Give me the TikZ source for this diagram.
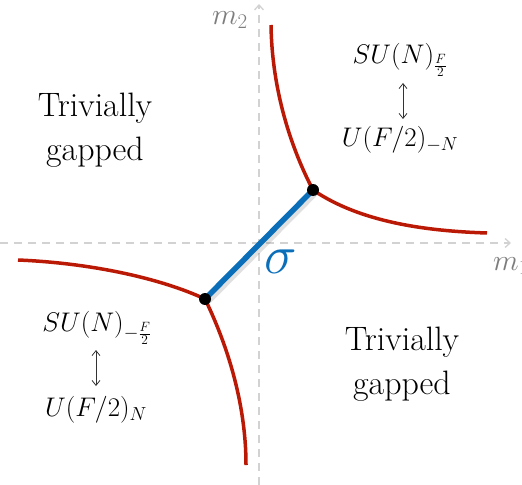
\RequirePackage{fix-cm}
\documentclass[tikz,border=0pt]{standalone}
\usetikzlibrary{arrows.meta}
\definecolor{cred}{RGB}{185,25,5}
\definecolor{cblue}{RGB}{10,110,185}
\definecolor{axisgray}{RGB}{210,210,210}
\definecolor{labgray}{RGB}{125,125,125}
\tikzset{
  axisline/.style={draw=axisgray, line width=1.3bp, dash pattern=on 8bp off 6bp, -{Straight Barb[length=5bp,width=9bp]}},
  redcurve/.style={draw=cred, line width=3.5bp},
  blueline/.style={draw=cblue, line width=5.5bp},
  shadowline/.style={draw=black, opacity=0.12, line width=8bp},
  dotnode/.style={circle, fill=black, inner sep=0pt, minimum size=12bp},
  txt/.style={align=center, font=\fontsize{34}{44}\selectfont, inner sep=0pt},
  mathlab/.style={font=\fontsize{27}{30}\selectfont, inner sep=0pt},
  axlab/.style={font=\fontsize{30}{34}\selectfont, text=labgray, inner sep=0pt},
  dualarrow/.style={draw=black!80, line width=0.8bp, {Straight Barb[length=5bp,width=8bp]}-{Straight Barb[length=5bp,width=8bp]}}
}
\begin{document}
\begin{tikzpicture}[x=1bp,y=-1bp]
\useasboundingbox (0,0) rectangle (522,485);
\clip (0,0) rectangle (522,485);
% axes
\coordinate (xs) at (0,243);
\coordinate (xe) at (511,243);
\coordinate (ys) at (259,485);
\coordinate (ye) at (259,4);
\draw[axisline] (xs) -- (xe);
\draw[axisline] (ys) -- (ye);
\node[axlab, anchor=east] (m2) at (248,20) {$m_2$};
\node[axlab, anchor=west] (m1) at (493,266) {$m_1$};
% points
\coordinate (P) at (313,190);
\coordinate (Q) at (205,299);
\coordinate (ur1) at (271,25);
\coordinate (ur2) at (487,233);
\coordinate (ll1) at (18,260);
\coordinate (ll2) at (246,465);
% red curves
\draw[redcurve] (ur1) .. controls (272,92) and (292,150) .. (P) .. controls (360,222) and (425,231) .. (ur2);
\draw[redcurve] (ll1) .. controls (90,263) and (160,278) .. (Q) .. controls (225,340) and (246,400) .. (ll2);
% blue segment with shadow
\draw[shadowline] ([shift={(2,2)}]P) -- ([shift={(2,2)}]Q);
\draw[blueline] (P) -- (Q);
\node[dotnode] (dp) at (P) {};
\node[dotnode] (dq) at (Q) {};
\node[font=\fontsize{55}{60}\selectfont, text=cblue, inner sep=0pt] (sig) at (281,262) {$\sigma$};
% texts
\node[txt] (tg1) at (95,130) {Trivially\\gapped};
\node[txt] (tg2) at (402,364) {Trivially\\gapped};
\node[mathlab] (a1) at (400,60) {$SU(N)_{\frac{F}{2}}$};
\node[mathlab] (a2) at (400,140) {$U(F/2)_{-N}$};
\draw[dualarrow] (403,83) -- (403,119);
\node[mathlab] (b1) at (97,328) {$SU(N)_{-\frac{F}{2}}$};
\node[mathlab] (b2) at (96,410) {$U(F/2)_{N}$};
\draw[dualarrow] (96,350) -- (96,386);
\end{tikzpicture}
\end{document}
